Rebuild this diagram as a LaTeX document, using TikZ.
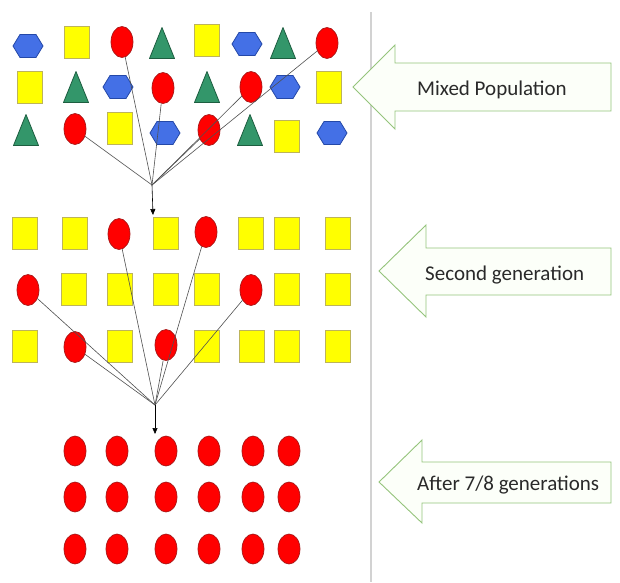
\documentclass[tikz,border=0pt]{standalone}
\usepackage{fontspec}
\setmainfont{Carlito}
\usetikzlibrary{shapes.geometric,arrows.meta}
\definecolor{yfill}{HTML}{FFFF00}
\definecolor{ybord}{HTML}{BDB45A}
\definecolor{rfill}{HTML}{FF0000}
\definecolor{rbord}{HTML}{A81818}
\definecolor{bfill}{HTML}{4470E6}
\definecolor{bbord}{HTML}{2448A8}
\definecolor{gfill}{HTML}{33966A}
\definecolor{gbord}{HTML}{1D5E40}
\definecolor{arrowc}{HTML}{95C47C}
\definecolor{arrowf}{HTML}{FCFFF9}
\definecolor{linkc}{HTML}{505050}
\definecolor{sepc}{HTML}{D2D2D2}
\definecolor{txt}{HTML}{2A2A2A}
\tikzset{
  yrect/.style={draw=ybord, fill=yfill, line width=0.7pt, minimum width=25pt, minimum height=32pt, inner sep=0pt},
  rball/.style={ellipse, draw=rbord, fill=rfill, line width=0.7pt, minimum width=22pt, minimum height=31pt, inner sep=0pt},
  hexs/.style={draw=bbord, fill=bfill, line width=0.8pt, line join=round},
  tris/.style={draw=gbord, fill=gfill, line width=0.8pt, line join=round},
  link/.style={draw=linkc, line width=0.6pt},
  stem/.style={draw=black, line width=0.6pt, -{Triangle[length=6pt,width=5pt]}},
  banner/.style={draw=arrowc, fill=arrowf, line width=0.9pt, line join=miter},
  lbl/.style={font=\fontsize{21}{25}\selectfont, text=txt, inner sep=0pt, anchor=base west},
  sepline/.style={draw=sepc, line width=1.5pt},
  hexa/.pic={\path[hexs] (-15,0) -- (-8,-11.5) -- (8,-11.5) -- (15,0) -- (8,11.5) -- (-8,11.5) -- cycle;},
  trio/.pic={\path[tris] (0,-15.5) -- (12.5,15.5) -- (-12.5,15.5) -- cycle;},
}
\begin{document}
\begin{tikzpicture}[x=1pt,y=-1pt]
\useasboundingbox (0,0) rectangle (620,582);
\fill[white] (0,0) rectangle (620,582);
% separator
\draw[sepline] (371,12) -- (371,582);
% ---------- mixed population ----------
% row 1
\pic at (28,46) {hexa};
\node[yrect] (r11) at (77,42) {};
\node[rball] (t1) at (122,42) {};
\pic at (162,43) {trio};
\node[yrect] (r12) at (207,40) {};
\pic at (247,44) {hexa};
\pic at (283,43) {trio};
\node[rball] (t2) at (327,43) {};
% row 2
\node[yrect] (r21) at (30,87) {};
\pic at (76,87) {trio};
\pic at (118,87) {hexa};
\node[rball] (t3) at (163,88) {};
\pic at (207,87) {trio};
\node[rball] (t4) at (251,87) {};
\pic at (285,87) {hexa};
\node[yrect] (r22) at (329,87) {};
% row 3
\pic at (26,130) {trio};
\node[rball] (t5) at (75,129) {};
\node[yrect] (r31) at (120,128) {};
\pic at (165,133) {hexa};
\node[rball] (t6) at (209,130) {};
\pic at (250,130) {trio};
\node[yrect] (r32) at (287,136) {};
\pic at (332,133) {hexa};
% convergence 1
\coordinate (c1) at (152,185);
\coordinate (a1) at (153,215);
\foreach \n in {t1,t2,t3,t4,t5,t6} \draw[link] (\n) -- (c1);
\draw[stem] (c1) -- (a1);
% ---------- second generation ----------
\node[yrect] (s11) at (25,233) {};
\node[yrect] (s12) at (75,233) {};
\node[rball] (m1) at (119,234) {};
\node[yrect] (s13) at (166,233) {};
\node[rball] (m2) at (206,232) {};
\node[yrect] (s14) at (251,233) {};
\node[yrect] (s15) at (287,233) {};
\node[yrect] (s16) at (338,233) {};
\node[rball] (m3) at (28,290) {};
\node[yrect] (s21) at (74,289) {};
\node[yrect] (s22) at (120,289) {};
\node[yrect] (s23) at (166,289) {};
\node[yrect] (s24) at (207,289) {};
\node[rball] (m4) at (251,290) {};
\node[yrect] (s25) at (287,289) {};
\node[yrect] (s26) at (338,289) {};
\node[yrect] (s31) at (25,346) {};
\node[rball] (m5) at (75,347) {};
\node[yrect] (s32) at (120,346) {};
\node[rball] (m6) at (166,345) {};
\node[yrect] (s33) at (207,346) {};
\node[yrect] (s34) at (252,346) {};
\node[yrect] (s35) at (287,346) {};
\node[yrect] (s36) at (338,346) {};
% convergence 2
\coordinate (c2) at (155,405);
\coordinate (a2) at (155,434);
\foreach \n in {m1,m2,m3,m4,m5,m6} \draw[link] (\n) -- (c2);
\draw[stem] (c2) -- (a2);
% ---------- after 7/8 generations ----------
\foreach \y [count=\j] in {451,497,549}
  \foreach \x [count=\i] in {75,117,166,209,253,289}
    \node[rball, minimum height=30pt] (b\j\i) at (\x,\y) {};
% ---------- banners ----------
\path[banner] (353,87) -- (395,45) -- (395,63) -- (611,63) -- (611,111) -- (395,111) -- (395,129) -- cycle;
\node[lbl] (l1) at (417,95) {Mixed Population};
\path[banner] (379,271) -- (426,225) -- (426,248) -- (611,248) -- (611,295) -- (426,295) -- (426,317) -- cycle;
\node[lbl] (l2) at (425,280) {Second generation};
\path[banner] (379,482) -- (422,440) -- (422,462) -- (611,462) -- (611,503) -- (422,503) -- (422,523) -- cycle;
\node[lbl] (l3) at (417,490) {After 7/8 generations};
\end{tikzpicture}
\end{document}
